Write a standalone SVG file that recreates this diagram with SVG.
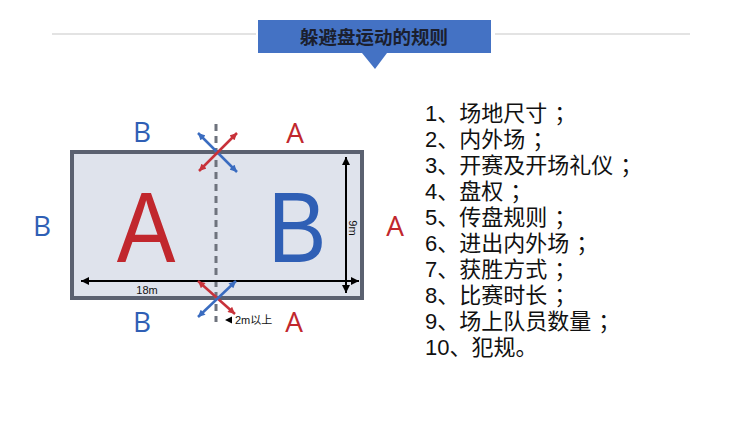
<svg xmlns="http://www.w3.org/2000/svg" width="750" height="421" viewBox="0 0 750 421">
<style>
.cjk{font-family:"Noto Sans CJK SC","Noto Sans",sans-serif}
.lat{font-family:"Open Sans","Liberation Sans",sans-serif}
.big{font-family:"Liberation Sans",Arial,sans-serif;font-size:100px}
.lbl{font-family:"Liberation Sans","Noto Sans CJK SC",sans-serif;font-size:11px;fill:#111}
.red{fill:#c1272d}
.blue{fill:#2f5fb5}
.item{font-family:"Liberation Sans","Noto Sans CJK SC",sans-serif;font-size:22px;fill:#111}
</style>
<defs>
<marker id="hk" viewBox="0 0 10 10" refX="10" refY="5" markerWidth="9" markerHeight="8" markerUnits="userSpaceOnUse" orient="auto-start-reverse"><path d="M0,0 L10,5 L0,10 z" fill="#000"/></marker>
<marker id="hr" viewBox="0 0 10 10" refX="10" refY="5" markerWidth="8" markerHeight="7" markerUnits="userSpaceOnUse" orient="auto-start-reverse"><path d="M0,0 L10,5 L0,10 z" fill="#c8323a"/></marker>
<marker id="hb" viewBox="0 0 10 10" refX="10" refY="5" markerWidth="8" markerHeight="7" markerUnits="userSpaceOnUse" orient="auto-start-reverse"><path d="M0,0 L10,5 L0,10 z" fill="#3a6cc0"/></marker>
</defs>
<rect width="750" height="421" fill="#fff"/>
<g id="header">
<line x1="52" y1="34" x2="256" y2="34" stroke="#c8c8c8" stroke-width="1.2"/>
<line x1="495" y1="34" x2="690" y2="34" stroke="#c8c8c8" stroke-width="1.2"/>
<rect x="258" y="20" width="233" height="33" fill="#4472c4"/>
<path d="M362,53 L387,53 L375,69 z" fill="#4472c4"/>
<text x="374" y="44" text-anchor="middle" class="cjk" font-size="18.5" font-weight="bold" fill="#1b1f2e">躲避盘运动的规则</text>
</g>
<g id="court">
<rect x="72" y="152" width="290" height="146" fill="#dfe3ec" stroke="#5b6170" stroke-width="4"/>
<line x1="216" y1="124" x2="216" y2="322" stroke="#6e737d" stroke-width="3" stroke-dasharray="7 5"/>
<text transform="translate(146,262) scale(0.88,1)" text-anchor="middle" class="big red">A</text>
<text transform="translate(297,262) scale(0.88,1)" text-anchor="middle" class="big blue">B</text>
</g>
<g id="side-labels" class="lat" font-size="28">
<text x="142" y="142" text-anchor="middle" class="blue">B</text>
<text x="295" y="143" text-anchor="middle" class="red">A</text>
<text x="42" y="236" text-anchor="middle" class="blue">B</text>
<text x="395" y="236" text-anchor="middle" class="red">A</text>
<text x="142" y="332" text-anchor="middle" class="blue">B</text>
<text x="294" y="332" text-anchor="middle" class="red">A</text>
</g>
<g id="connectors">
<line x1="81" y1="281" x2="359" y2="281" stroke="#000" stroke-width="2" marker-start="url(#hk)" marker-end="url(#hk)"/>
<line x1="346" y1="157" x2="346" y2="293" stroke="#000" stroke-width="2" marker-start="url(#hk)" marker-end="url(#hk)"/>
<line x1="198" y1="133" x2="237" y2="172" stroke="#3a6cc0" stroke-width="2.5" marker-start="url(#hb)" marker-end="url(#hb)"/>
<line x1="237" y1="133" x2="199" y2="171" stroke="#c8323a" stroke-width="2.5" marker-start="url(#hr)" marker-end="url(#hr)"/>
<line x1="198" y1="281" x2="235" y2="314" stroke="#c8323a" stroke-width="2.5" marker-start="url(#hr)" marker-end="url(#hr)"/>
<line x1="236" y1="281" x2="198" y2="317" stroke="#3a6cc0" stroke-width="2.5" marker-start="url(#hb)" marker-end="url(#hb)"/>
<path d="M225,320 L232,316.5 L232,323.5 z" fill="#000"/>
</g>
<g id="dimension-labels">
<text x="147" y="294" text-anchor="middle" class="lbl">18m</text>
<text transform="translate(349,228) rotate(90)" text-anchor="middle" class="lbl">9m</text>
<text x="235" y="324" class="lbl">2m以上</text>
</g>
<g id="rules-list">
<text x="425" y="121" class="item">1、场地尺寸<tspan dx="7">；</tspan></text>
<text x="425" y="147" class="item">2、内外场<tspan dx="7">；</tspan></text>
<text x="425" y="173" class="item">3、开赛及开场礼仪<tspan dx="7">；</tspan></text>
<text x="425" y="199" class="item">4、盘权<tspan dx="7">；</tspan></text>
<text x="425" y="225" class="item">5、传盘规则<tspan dx="7">；</tspan></text>
<text x="425" y="251" class="item">6、进出内外场<tspan dx="7">；</tspan></text>
<text x="425" y="277" class="item">7、获胜方式<tspan dx="7">；</tspan></text>
<text x="425" y="303" class="item">8、比赛时长<tspan dx="7">；</tspan></text>
<text x="425" y="329" class="item">9、场上队员数量<tspan dx="7">；</tspan></text>
<text x="425" y="355" class="item">10、犯规。</text>
</g>
</svg>
